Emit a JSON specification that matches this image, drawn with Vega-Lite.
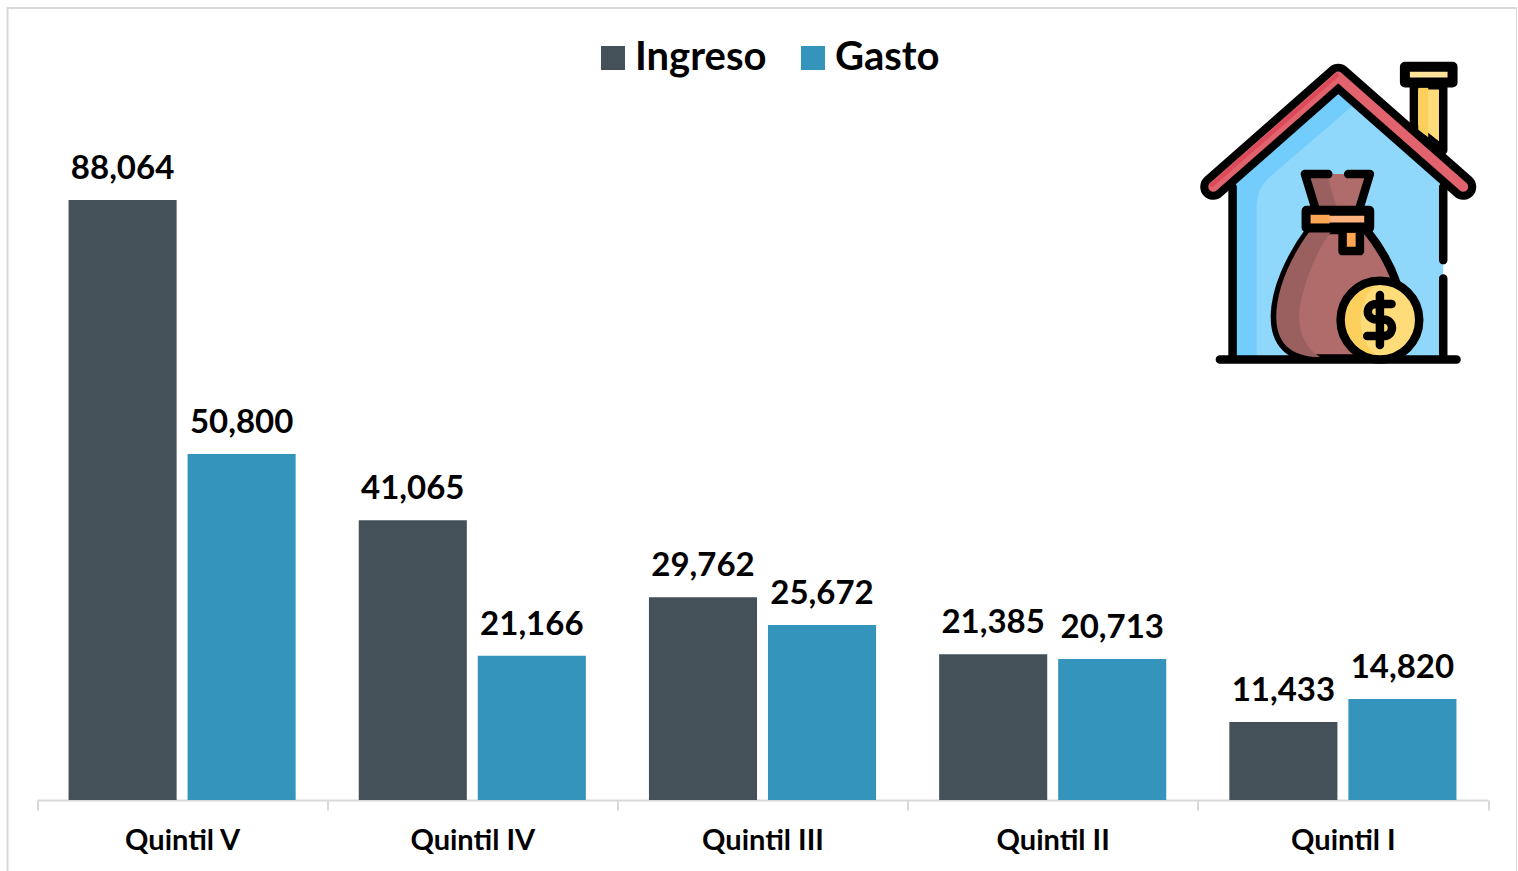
{
"$schema":"https://vega.github.io/schema/vega-lite/v6.json",
"autosize":{"type":"none"},
"padding":{"left":7.5,"top":8,"right":0,"bottom":0},
"width":1509.5,
"height":880,
"background":"white",
"view":{"stroke":"#d9d9d9","strokeWidth":2},
"config":{"font":"Lato","point":{"opacity":1,"strokeCap":"round","strokeJoin":"round","strokeWidth":8.5}},
"data":{"values":[
{"quintil":"Quintil V","serie":"Ingreso","valor":88064},
{"quintil":"Quintil V","serie":"Gasto","valor":50800},
{"quintil":"Quintil IV","serie":"Ingreso","valor":41065},
{"quintil":"Quintil IV","serie":"Gasto","valor":21166},
{"quintil":"Quintil III","serie":"Ingreso","valor":29762},
{"quintil":"Quintil III","serie":"Gasto","valor":25672},
{"quintil":"Quintil II","serie":"Ingreso","valor":21385},
{"quintil":"Quintil II","serie":"Gasto","valor":20713},
{"quintil":"Quintil I","serie":"Ingreso","valor":11433},
{"quintil":"Quintil I","serie":"Gasto","valor":14820}
]},
"layer":[
{"encoding":{
"x":{"field":"quintil","type":"nominal","title":null,
 "scale":{"domain":["Quintil V","Quintil IV","Quintil III","Quintil II","Quintil I"],"range":[29.5,1480.5],"paddingInner":0,"paddingOuter":0},
 "axis":{"orient":"bottom","offset":-88,"labelAngle":0,"labelFont":"Lato","labelFontWeight":"bold","labelFontSize":29,"labelColor":"#000000","labelPadding":16,"tickBand":"extent","tickSize":10,"tickWidth":2,"tickColor":"#d9d9d9","domainColor":"#d9d9d9","domainWidth":2,"grid":false}},
"y":{"field":"valor","type":"quantitative","title":null,"scale":{"domain":[0,100000],"range":[792,110.7],"nice":false},"axis":null},
"xOffset":{"field":"serie","type":"nominal","sort":["Ingreso","Gasto"],"scale":{"domain":["Ingreso","Gasto"],"paddingInner":0.092,"paddingOuter":0.265}}
},
"layer":[
{"mark":{"type":"bar"},
 "encoding":{"color":{"field":"serie","type":"nominal","scale":{"domain":["Ingreso","Gasto"],"range":["#455159","#3594bb"]},
 "legend":{"title":null,"orient":"none","direction":"horizontal","legendX":585.5,"legendY":30,"padding":0,"symbolType":"square","symbolSize":576,"symbolStrokeWidth":0,"symbolOpacity":1,"labelFont":"Lato","labelFontWeight":"bold","labelFontSize":40,"labelColor":"#000000","labelOffset":2,"columnPadding":26,"labelLimit":300}}}},
{"mark":{"type":"text","font":"Lato","fontWeight":"bold","fontSize":33,"color":"#000000","baseline":"bottom","dy":-14},
 "encoding":{"text":{"field":"valor","type":"quantitative","format":","}}}
]},
{"data":{"values":[{"icono":"casa"}]},
 "encoding":{"x":{"datum":"Quintil I","type":"nominal"},"y":{"datum":88000,"type":"quantitative"},"size":{"value":0.4444}},
 "layer":[
 {"mark":{"type":"point","filled":true,"fill":"#8fd8fb","strokeWidth":0,"shape":"M-331,-51L-14,-326L301,-51L301,474L-331,474Z"}},
 {"mark":{"type":"point","filled":true,"fill":"#72cdfc","strokeWidth":0,"shape":"M-331,-51L-14,-326L31,-286L-219,-71Q-259,-35,-259,20L-259,474L-331,474Z"}},
 {"mark":{"type":"point","filled":true,"fill":"#ffdc7a","stroke":"#000000","shape":"M213,-346L301,-346L301,-151L213,-221Z"}},
 {"mark":{"type":"point","filled":true,"fill":"#fdd05e","strokeWidth":0,"shape":"M226,-338L256,-338L256,-190L226,-212Z"}},
 {"mark":{"type":"point","filled":true,"fill":"#ffe39a","stroke":"#000000","strokeWidth":10,"shape":"M186,-401L329,-401L329,-354L186,-354Z"}},
 {"mark":{"type":"point","filled":false,"fill":"transparent","stroke":"#000000","strokeWidth":26,"shape":"M-389,-41L-14,-371L361,-41"}},
 {"mark":{"type":"point","filled":false,"fill":"transparent","stroke":"#e0636e","strokeWidth":10,"shape":"M-389,-41L-14,-371L361,-41"}},
 {"mark":{"type":"point","filled":false,"fill":"transparent","stroke":"#dc4a59","strokeWidth":4,"shape":"M-393,-46L-18,-376"}},
 {"mark":{"type":"point","filled":false,"fill":"transparent","stroke":"#000000","shape":"M-331,-40L-331,474M301,-40L301,179M301,234L301,474M-369,477L341,477"}},
 {"mark":{"type":"point","filled":true,"fill":"#b06b6b","stroke":"#000000","shape":"M-99,89C-159,169,-204,269,-204,349C-204,429,-159,474,-79,474L61,474L161,249C141,189,111,139,71,89Z"}},
 {"mark":{"type":"point","filled":true,"fill":"#9a5f5f","strokeWidth":0,"shape":"M-99,92C-159,172,-200,269,-200,349C-200,425,-159,470,-69,470C-119,439,-139,379,-129,319C-114,239,-79,149,-34,92Z"}},
 {"mark":{"type":"point","filled":true,"fill":"#b06b6b","strokeWidth":0,"shape":"M-114,-79L81,-79L51,19L-84,19Z"}},
 {"mark":{"type":"point","filled":true,"fill":"#9a5f5f","strokeWidth":0,"shape":"M-114,-79L-49,-79L-19,19L-84,19Z"}},
 {"mark":{"type":"point","filled":false,"fill":"transparent","stroke":"#000000","shape":"M-44,-79L-114,-79L-84,19M16,-79L81,-79L51,19"}},
 {"mark":{"type":"point","filled":true,"fill":"#ffa654","stroke":"#000000","shape":"M-1,84L-1,152L51,152L51,84Z"}},
 {"mark":{"type":"point","filled":true,"fill":"#ffb27e","stroke":"#000000","strokeWidth":10,"shape":"M-109,31L79,31L79,81L-109,81Z"}},
 {"mark":{"type":"point","filled":true,"fill":"#ffa654","strokeWidth":0,"shape":"M-97,43L-40,43L-40,69L-97,69Z"}},
 {"mark":{"type":"point","filled":true,"fill":"#ffdc7a","strokeWidth":0,"shape":"M-7,359A118,118,0,1,1,229,359A118,118,0,1,1,-7,359Z"}},
 {"mark":{"type":"point","filled":true,"fill":"#fdd05e","strokeWidth":0,"shape":"M111,241A118,118,0,0,0,111,477A150,150,0,0,1,111,241Z"}},
 {"mark":{"type":"point","filled":false,"fill":"transparent","stroke":"#000000","shape":"M-7,359A118,118,0,1,1,229,359A118,118,0,1,1,-7,359Z"}},
 {"mark":{"type":"point","filled":false,"fill":"transparent","stroke":"#000000","shape":"M146,311L101,311C66,311,66,357,101,357L121,357C156,357,156,407,121,407L73,407M111,284L111,434"}}
 ]}
]
}
